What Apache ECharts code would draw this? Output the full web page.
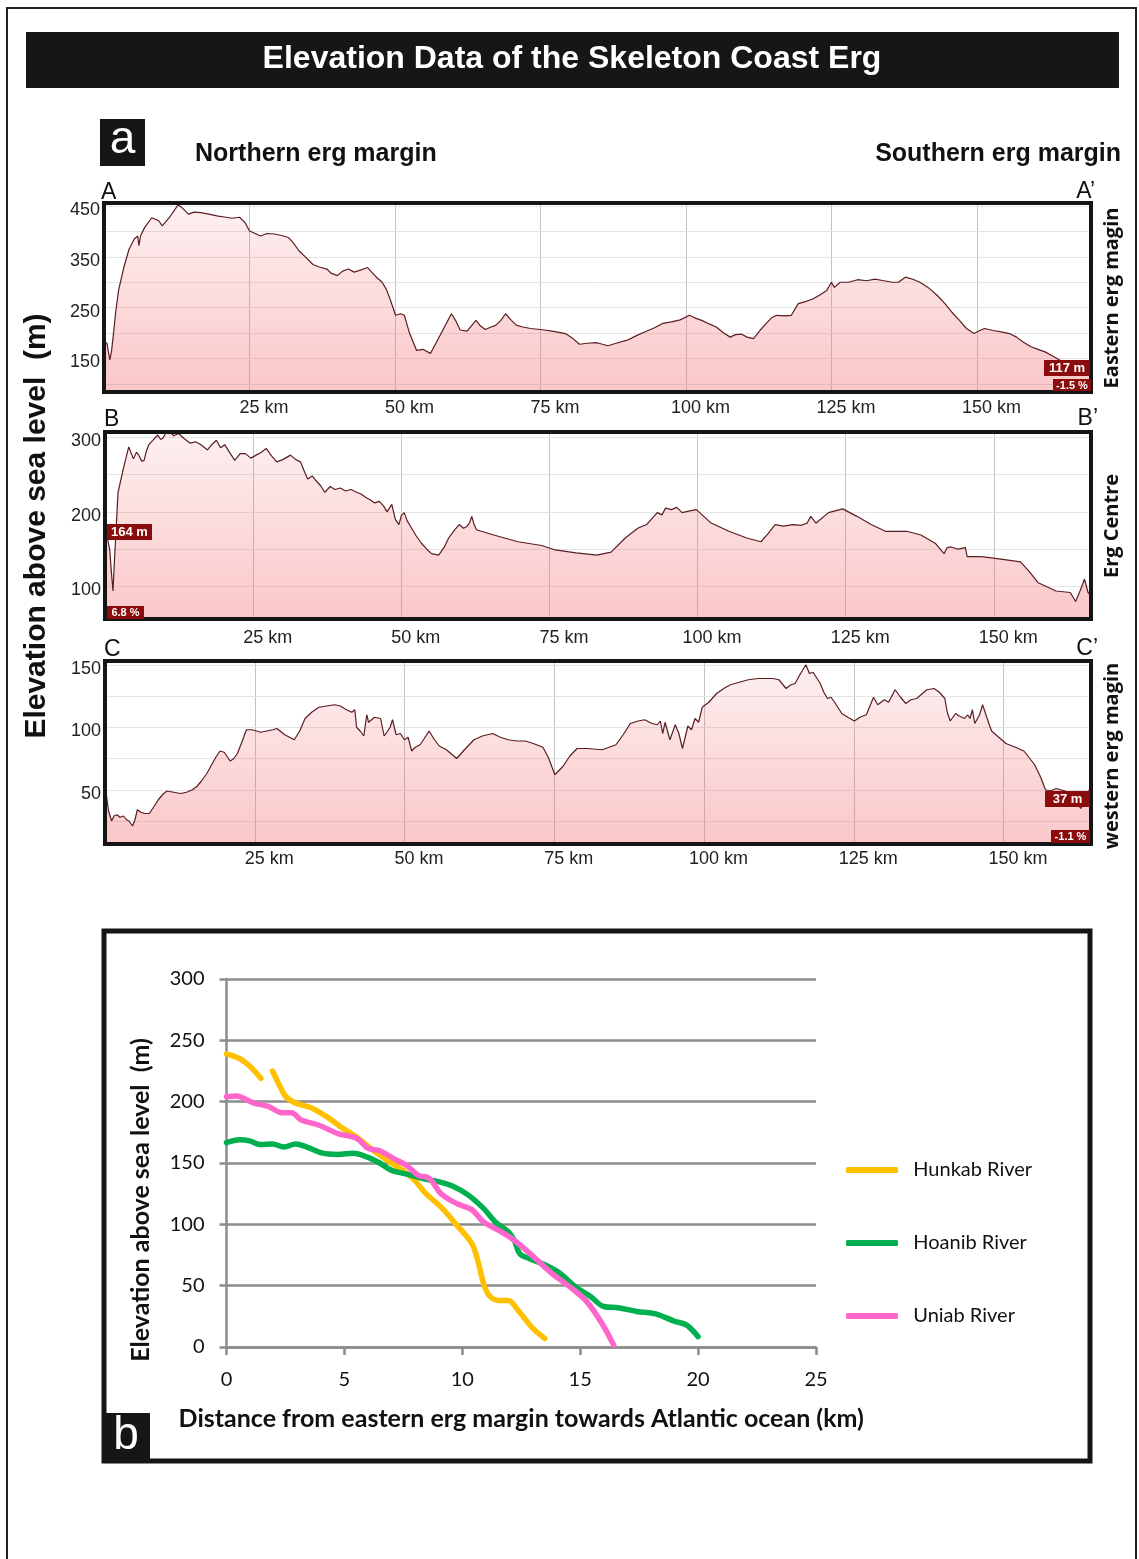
<!DOCTYPE html>
<html><head><meta charset="utf-8">
<script src="https://cdn.jsdelivr.net/npm/echarts@6/dist/echarts.min.js"></script>
<style>html,body{margin:0;padding:0;background:#fff}#c{width:1139px;height:1559px}</style>
</head><body><div id="c"></div><script>
// ---------- Panel a: profile A-A' (Eastern erg margin) ----------
var aKm = [0,0.5,1.0,1.3,1.6,2.0,2.5,3.4,4.3,5.2,5.8,6.0,6.3,7.0,8.2,9.4,10.0,11.2,12.0,12.7,13.3,14.0,14.5,15.5,16.6,18.0,19.6,21.0,22.0,23.3,24.2,25.0,26.0,26.9,28.0,29.3,30.5,31.7,32.5,33.5,34.6,35.9,37.0,38.3,39.0,40.1,41.0,42.0,43.0,43.8,45.3,46.0,46.8,47.8,48.6,49.3,50.1,51.0,51.6,52.5,53.7,54.8,56.1,57.3,58.5,59.7,60.4,61.2,62.4,63.9,64.6,65.5,66.5,67.3,68.2,69.0,70.0,70.9,72.0,73.3,75.7,77.5,79.3,80.5,81.7,83.0,84.7,86.6,88.0,89.9,91.5,92.9,94.5,96.0,97.5,99.0,100.6,101.5,102.7,104.0,105.2,106.5,107.6,108.5,109.5,110.5,111.6,112.7,113.8,114.7,115.6,117.0,118.1,119.3,120.5,121.8,123.0,124.2,125.0,125.5,126.5,127.9,129.5,131.0,132.5,134.0,135.5,136.5,137.7,139.0,140.2,141.8,143.2,144.5,145.7,147.0,148.2,149.5,150.3,151.3,152.8,154.4,155.6,156.8,158.0,159.3,160.5,161.7,163.0,164.2,165.5,167.0,168.5,169.6];
var aElev = [183,180,147,165,196,240,284,329,365,385,391,372,392,408,427,421,411,427,440,452,448,440,434,438,437,434,430,428,426,428,418,401,396,391,396,395,392,388,378,362,350,335,330,326,318,313,322,326,320,323,329,320,310,300,284,262,235,238,235,200,166,168,160,186,212,238,225,206,204,225,215,207,212,215,225,238,225,215,212,209,206,203,199,190,178,180,181,175,180,186,195,202,210,219,222,226,235,230,225,218,212,200,192,197,198,192,189,205,219,230,235,234,235,258,262,267,275,284,300,290,300,300,305,303,306,303,300,300,310,306,300,288,274,258,241,225,209,199,204,209,205,202,199,192,182,173,168,163,155,147,138,128,120,117];
var aTicks = [150,250,350,450];
var aGridVals = [100,150,200,250,300,350,400,450];

// ---------- Panel a: profile B-B' (Erg Centre) ----------
var bKm = [0,0.4,0.8,1.1,1.35,1.6,2.2,3.1,4.0,4.8,5.3,5.7,6.2,6.6,7.0,7.4,8.1,8.9,9.4,9.8,10.3,10.9,11.6,12.4,13.4,14.4,15.3,16.2,17.3,18.0,18.8,19.5,20.2,21.0,21.9,22.8,23.7,24.6,25.5,26.4,27.2,28.1,29.0,30.0,31.3,32.2,33.0,33.6,34.2,35.0,35.6,36.4,37.1,38.0,38.8,39.7,40.6,41.5,42.3,43.2,44.1,44.8,45.5,46.3,47.0,47.6,48.4,49.0,49.6,50.0,50.5,51.0,51.6,52.5,53.4,54.3,55.1,56.3,57.2,58.0,59.0,59.8,60.5,61.0,61.5,61.9,62.3,62.7,65.6,69.7,73.7,76.0,79.5,83.0,85.4,87.8,89.9,91.4,93.2,94.0,94.6,95.6,96.5,97.4,98.5,99.8,102.3,105.3,108.3,110.7,111.9,113.1,114.5,116.1,117.5,118.5,119.1,120.0,122.1,124.5,126.9,129.3,131.7,135.3,137.7,140.1,141.6,142.1,142.8,144.0,145.2,145.5,147.9,150.9,154.5,156.0,157.5,160.5,162.9,163.8,164.6,165.3,165.9,166.4];
var bElev = [160,165,149,117,94,135,226,258,287,271,280,276,268,269,282,290,296,303,297,299,306,308,302,305,298,292,294,290,283,290,296,286,290,280,269,278,278,272,276,280,285,275,267,270,276,270,267,255,244,248,242,235,226,234,230,232,228,230,227,224,219,216,212,214,208,200,210,190,183,195,199,188,180,168,158,150,144,142,152,165,176,183,178,180,185,194,183,176,169,160,155,149,145,142,146,165,178,183,199,196,205,203,206,199,201,203,185,174,165,160,171,183,181,183,182,185,194,185,199,204,194,183,174,174,169,158,144,152,153,150,152,140,140,137,133,120,105,94,92,80,95,110,92,88];
var bTicks = [100,200,300];
var bGridVals = [100,150,200,250,300];

// ---------- Panel a: profile C-C' (western erg margin) ----------
var cKm = [0,0.25,0.6,1.1,1.5,2.0,2.5,3.1,3.6,4.0,4.6,5.0,5.4,6.0,6.6,7.4,8.1,8.9,9.6,10.3,11.5,12.6,13.6,14.6,15.4,16.1,17.0,17.8,18.5,19.2,19.9,20.9,21.5,22.1,23.0,23.6,24.5,25.3,26.0,27.0,28.0,28.7,30.0,31.6,32.5,33.4,34.5,35.7,37.0,38.3,39.3,40.3,41.2,41.7,42.0,42.6,43.2,43.7,44.0,44.3,45.0,46.0,46.6,47.2,47.6,48.0,48.6,49.3,50.0,50.6,51.2,51.8,52.6,53.3,54.1,55.0,55.8,57.0,58.7,60.0,61.6,63.0,64.7,66.0,67.3,68.8,70.2,71.5,73.1,74.0,75.1,76.5,77.6,78.8,80.5,83.0,85.3,86.5,87.7,89.0,90.1,91.3,92.2,92.7,93.1,93.5,94.3,95.2,95.8,96.4,97.3,97.9,98.5,99.1,99.7,100.8,102.1,103.3,104.4,105.9,107.4,109.0,110.4,111.5,112.5,113.7,114.5,115.2,116.0,117.0,117.6,118.2,119.4,120.0,120.6,121.2,121.8,123.0,124.0,125.1,126.0,127.1,128.3,129.0,130.1,130.8,131.9,132.8,133.7,134.5,135.5,137.2,138.4,139.3,140.2,140.6,141.1,142.0,142.6,143.5,144.0,144.4,144.8,145.2,146.0,146.5,147.2,148.0,150.4,152.0,153.4,155.2,156.2,157.0,157.8,158.8,160.3,161.5,162.9,164.1,164.6];
var cElev = [48,45,33,25,29,30,28,29,26,25,21,26,34,32,31,31,36,42,46,49,48,47,48,50,53,57,63,70,76,81,80,73,75,79,90,98,98,97,96,97,98,99,94,90,97,107,112,116,117,118,117,114,112,114,100,97,93,110,104,103,108,107,93,97,100,106,94,95,90,92,81,84,86,91,97,90,85,82,75,82,90,93,95,92,90,89,89,87,84,76,62,69,77,83,83,82,86,94,103,105,106,103,102,105,95,104,90,102,95,83,101,98,107,104,116,120,127,131,134,136,138,139,139,139,138,131,134,135,142,150,143,144,135,128,123,124,120,111,108,105,108,110,124,118,122,120,130,124,119,122,123,130,131,128,123,112,105,111,109,107,110,107,114,103,110,118,108,97,87,84,81,70,60,50,49,51,49,44,35,45,57];
var cTicks = [50,100,150];
var cGridVals = [25,50,75,100,125,150];

var kmTicks = [25,50,75,100,125,150];

// ---------- Panel b: river long profiles ----------
var hunkabKm   = [0,0.57,0.98,1.46,1.7,1.95,2.28,2.52,2.93,3.58,4.23,4.88,5.53,6.18,6.83,7.48,7.97,8.46,9.1,9.76,10.4,10.65,10.9,11.14,11.55,11.95,12.36,13.0,13.5];
var hunkabElev = [239,235,229,219,null,225,212,204,199,195,188,179,171,161,152,144,136,125,114,99.5,84.5,71,52,42,38,38,30,15,7];
var hoanibKm   = [0,0.57,0.98,1.46,1.95,2.44,2.93,3.41,4.07,4.72,5.37,6.0,6.5,7.0,7.64,8.3,8.94,9.6,10.24,10.9,11.4,11.95,12.2,12.44,12.85,13.5,14.15,14.8,15.45,16.0,16.6,17.4,18.2,19.0,19.5,20.0];
var hoanibElev = [166.6,169,168,165,165.5,163,165.5,163,158,157,158,154.6,150,144,141,137.5,135,131,124,113,102,94,87,76,72,67,60,49,41,33,32,29,27,21,18,8.4];
var uniabKm    = [0,0.41,1.14,1.79,2.36,2.76,3.17,3.9,4.72,5.53,6.0,6.5,7.15,7.64,8.13,8.6,9.1,9.76,10.4,10.9,11.55,12.2,13.0,13.8,14.63,15.28,15.93,16.42];
var uniabElev  = [204,204.6,199,196,191,191,185,181,174,170,162,160,153,148,140,137.5,125,117,112,102,95,87,74,60,48,37,19,1.6];
var riverNames = ['Hunkab River','Hoanib River','Uniab River'];
var riverColors = ['#FFC000','#00B050','#FF66CC'];

// ---------- build ----------
function zip(xs, ys){ return xs.map(function(x,i){ return [x, ys[i] === null ? '-' : ys[i]]; }); }

var ARIAL = "'Liberation Sans', Arial, sans-serif";
var CAL = "Lato, 'Open Sans', sans-serif";

var panels = [
  {km:aKm, el:aElev, ticks:aTicks, gv:aGridVals, left:104, top:203, width:987, height:189, ymin:84, ymax:456, xmax:169.6, margin:7},
  {km:bKm, el:bElev, ticks:bTicks, gv:bGridVals, left:105, top:432, width:986, height:187, ymin:56.5, ymax:307, xmax:166.4, margin:10},
  {km:cKm, el:cElev, ticks:cTicks, gv:cGridVals, left:105, top:661, width:986, height:183, ymin:6.6, ymax:153, xmax:164.6, margin:6}
];

var grids = [], xAxes = [], yAxes = [], series = [];
panels.forEach(function(p, i){
  grids.push({left:p.left, top:p.top, width:p.width, height:p.height, show:false});
  xAxes.push({
    type:'value', gridIndex:i, min:0, max:p.xmax, interval:25,
    axisLine:{show:false}, axisTick:{show:false},
    splitLine:{show:true, lineStyle:{color:'#c4c4c4', width:1}},
    axisLabel:{
      margin:p.margin, fontFamily:ARIAL, fontSize:18, color:'#222',
      showMinLabel:false, showMaxLabel:false,
      formatter:function(v){ return kmTicks.indexOf(v) >= 0 ? '{p| km}' + v + ' km' : ''; },
      rich:{p:{color:'rgba(0,0,0,0)', fontFamily:ARIAL, fontSize:18}}
    }
  });
  yAxes.push({
    type:'value', gridIndex:i, min:p.ymin, max:p.ymax,
    axisLine:{show:false}, axisTick:{show:false}, splitLine:{show:false},
    axisLabel:{customValues:p.ticks, margin:4, verticalAlign:'top', lineHeight:8,
      fontFamily:ARIAL, fontSize:18, color:'#222'}
  });
  series.push({
    type:'line', xAxisIndex:i, yAxisIndex:i, data:zip(p.km, p.el),
    showSymbol:false, symbol:'none', smooth:false, z:3,
    lineStyle:{color:'#5a1d22', width:1.2},
    areaStyle:{color:{type:'linear', x:0, y:0, x2:0, y2:1, colorStops:[
      {offset:0, color:'rgba(241,101,105,0.14)'},
      {offset:1, color:'rgba(241,101,105,0.52)'}]}},
    markLine:{silent:true, symbol:['none','none'], z:1, animation:false,
      label:{show:false}, lineStyle:{color:'#e4e4e4', width:1, type:'solid'},
      data:p.gv.map(function(v){ return {yAxis:v}; })}
  });
});

// panel b
grids.push({left:226.5, top:979, width:589.5, height:368, show:false});
xAxes.push({
  type:'value', gridIndex:3, min:0, max:25, interval:5,
  axisLine:{show:true, lineStyle:{color:'#8c8c8c', width:2.5}},
  axisTick:{show:true, inside:false, length:8, lineStyle:{color:'#8c8c8c', width:2.5}},
  splitLine:{show:false},
  axisLabel:{margin:23, fontFamily:CAL, fontSize:20, color:'#111'},
  name:'Distance from eastern erg margin towards Atlantic ocean (km)',
  nameLocation:'middle', nameGap:59,
  nameTextStyle:{fontFamily:CAL, fontWeight:'bold', fontSize:25, color:'#111'}
});
yAxes.push({
  type:'value', gridIndex:3, min:0, max:300, interval:50,
  axisLine:{show:true, lineStyle:{color:'#8c8c8c', width:2.5}},
  axisTick:{show:true, inside:false, length:7, lineStyle:{color:'#8c8c8c', width:2.5}},
  splitLine:{show:true, lineStyle:{color:'#8c8c8c', width:2.5}},
  axisLabel:{margin:22, fontFamily:CAL, fontSize:20, color:'#111'}
});
[[hunkabKm,hunkabElev],[hoanibKm,hoanibElev],[uniabKm,uniabElev]].forEach(function(r, i){
  series.push({
    name:riverNames[i], type:'line', xAxisIndex:3, yAxisIndex:3, data:zip(r[0], r[1]),
    showSymbol:false, symbol:'none', smooth:0.35, connectNulls:false, z:4,
    lineStyle:{color:riverColors[i], width:5.5, cap:'round', join:'round'},
    itemStyle:{color:riverColors[i]}
  });
});

function box(x, y, w, h, s, fs){
  return [
    {type:'rect', z:130, shape:{x:x, y:y, width:w, height:h}, style:{fill:'#8b0c0c'}},
    {type:'text', z:131, x:x + w/2, y:y + h/2 + 0.5, style:{text:s, fill:'#fff', font:'bold ' + fs + 'px ' + ARIAL, align:'center', verticalAlign:'middle'}}
  ];
}
function txt(x, y, s, font, align, rot, fill){
  return {type:'text', z:125, x:x, y:y, rotation:rot || 0,
    style:{text:s, font:font, fill:fill || '#111', align:align || 'left', verticalAlign:'middle'}};
}
function frame(x, y, w, h, lw){
  return {type:'rect', z:110, shape:{x:x, y:y, width:w, height:h}, style:{fill:null, stroke:'#151515', lineWidth:lw}};
}

var graphics = [
  {type:'rect', z:100, shape:{x:7, y:8, width:1129, height:1600}, style:{fill:null, stroke:'#222', lineWidth:2}},
  {type:'rect', z:100, shape:{x:26, y:32, width:1093, height:56}, style:{fill:'#161616'}},
  txt(572, 59, 'Elevation Data of the Skeleton Coast Erg', 'bold 32px ' + ARIAL, 'center', 0, '#fff'),
  {type:'rect', z:100, shape:{x:100, y:119, width:45, height:47}, style:{fill:'#161616'}},
  txt(122.5, 140, 'a', '46px ' + ARIAL, 'center', 0, '#fff'),
  txt(195, 154, 'Northern erg margin', 'bold 25px ' + ARIAL, 'left'),
  txt(1121, 154, 'Southern erg margin', 'bold 25px ' + ARIAL, 'right'),
  txt(101, 193, 'A', '23px ' + ARIAL, 'left'),
  txt(1095, 192, 'A\u2019', '23px ' + ARIAL, 'right'),
  txt(104, 420, 'B', '23px ' + ARIAL, 'left'),
  txt(1098, 419, 'B\u2019', '23px ' + ARIAL, 'right'),
  txt(104, 650, 'C', '23px ' + ARIAL, 'left'),
  txt(1098, 649, 'C\u2019', '23px ' + ARIAL, 'right'),
  txt(37, 526, 'Elevation above sea level  (m)', 'bold 30px ' + ARIAL, 'center', Math.PI/2),
  txt(1112, 298, 'Eastern erg magin', "bold 20px 'Open Sans', sans-serif", 'center', Math.PI/2),
  txt(1112, 526, 'Erg Centre', "bold 20px 'Open Sans', sans-serif", 'center', Math.PI/2),
  txt(1112, 756, 'western erg magin', "bold 20px 'Open Sans', sans-serif", 'center', Math.PI/2),
  frame(104, 203, 987, 189, 4),
  frame(105, 432, 986, 187, 4),
  frame(105, 661, 986, 183, 4),
  frame(104, 931, 986, 530, 5),
  {type:'rect', z:115, shape:{x:102, y:1413, width:48, height:49}, style:{fill:'#161616'}},
  txt(126, 1436, 'b', '46px ' + ARIAL, 'center', 0, '#fff'),
  txt(141, 1200, 'Elevation above sea level  (m)', 'bold 25px ' + CAL, 'center', Math.PI/2)
].concat(
  box(1044, 360, 46, 16, '117 m', 13),
  box(1053, 379, 38, 12, '-1.5 %', 11),
  box(107, 524, 45, 16, '164 m', 13),
  box(107, 606, 37, 13, '6.8 %', 11),
  box(1045, 791, 45, 16, '37 m', 13),
  box(1051, 830, 39, 13, '-1.1 %', 11)
);

var chart = echarts.init(document.getElementById('c'), null, {renderer:'canvas'});
chart.setOption({
  animation:false,
  backgroundColor:'#fff',
  grid:grids, xAxis:xAxes, yAxis:yAxes, series:series,
  legend:{
    data:riverNames, orient:'vertical', left:841, top:1155,
    itemWidth:52, itemHeight:6, itemGap:53, icon:'roundRect',
    formatter:function(n){ return '  ' + n; },
    textStyle:{fontFamily:CAL, fontSize:20, color:'#111', lineHeight:20}
  },
  graphic:graphics
});
</script></body></html>
